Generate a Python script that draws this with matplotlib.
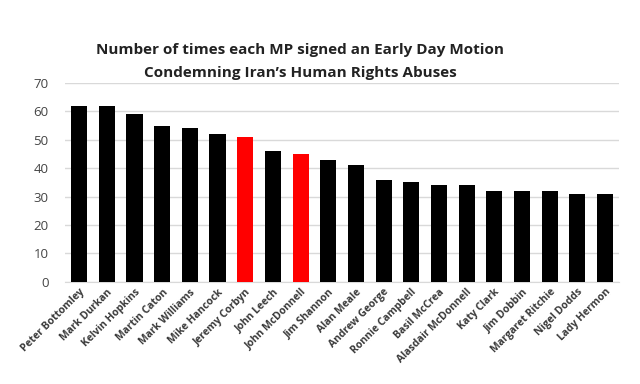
import matplotlib
matplotlib.use("Agg")
import matplotlib.pyplot as plt

names = ["Peter Bottomley", "Mark Durkan", "Kelvin Hopkins", "Martin Caton",
         "Mark Williams", "Mike Hancock", "Jeremy Corbyn", "John Leech",
         "John McDonnell", "Jim Shannon", "Alan Meale", "Andrew George",
         "Ronnie Campbell", "Basil McCrea", "Alasdair McDonnell", "Katy Clark",
         "Jim Dobbin", "Margaret Ritchie", "Nigel Dodds", "Lady Hermon"]
values = [62, 62, 59, 55, 54, 52, 51, 46, 45, 43, 41, 36, 35, 34, 34, 32, 32, 32, 31, 31]
highlight = ["Jeremy Corbyn", "John McDonnell"]
yticks = [0, 10, 20, 30, 40, 50, 60, 70]

plt.rcParams['font.family'] = ['Open Sans', 'DejaVu Sans']

fig = plt.figure(figsize=(6.4, 3.84), dpi=100)
ax = fig.add_axes([0.102, 0.266, 0.865, 0.518])

colors = ["#ff0000" if n in highlight else "#000000" for n in names]
x = list(range(len(names)))
ax.bar(x, values, width=0.58, color=colors, zorder=3)

ax.set_xlim(-0.5, len(names) - 0.5)
ax.set_ylim(0, 70)
ax.set_yticks(yticks)
ax.set_yticklabels([str(t) for t in yticks], fontsize=9.5, color="#444444")
ax.grid(axis='y', color="#d9d9d9", linewidth=1, zorder=0)
for s in ['top', 'right', 'left']:
    ax.spines[s].set_visible(False)
ax.spines['bottom'].set_color("#d9d9d9")
ax.tick_params(axis='both', length=0)
ax.tick_params(axis='y', pad=12)

ax.set_xticks(x)
ax.set_xticklabels(names, rotation=45, ha='right', va='top', rotation_mode='anchor',
                   fontsize=7.5, fontweight='bold', color="#3a3a3a")

fig.text(0.469, 0.84, "Number of times each MP signed an Early Day Motion\nCondemning Iran\u2019s Human Rights Abuses",
         ha='center', va='center', fontsize=11, fontweight='bold', color="#222222", linespacing=1.75)

fig.savefig("out.png", dpi=100, facecolor='white')
